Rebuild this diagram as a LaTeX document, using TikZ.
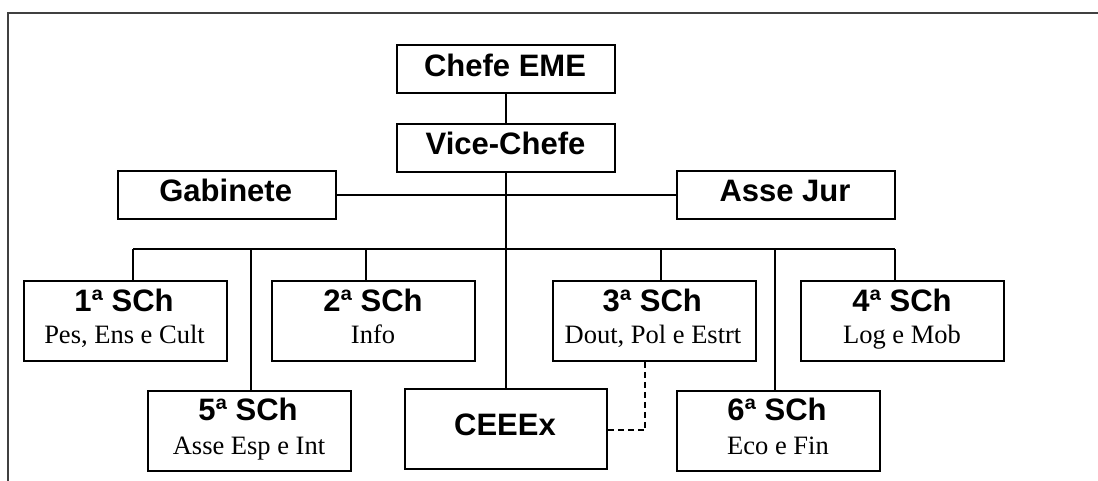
\documentclass[tikz,border=0pt]{standalone}
\usepackage{fontspec}
\newfontfamily\headfont{Liberation Sans}
\newfontfamily\subfont{Liberation Serif}
\begin{document}
\begin{tikzpicture}[x=1pt,y=-1pt,
  box/.style={draw=black,line width=2pt,rectangle,inner sep=0pt},
  topbox/.style={box,minimum width=218pt,minimum height=48pt},
  rowbox/.style={box,minimum width=203pt,minimum height=80pt},
  head/.style={anchor=base,inner sep=0pt,font=\headfont\bfseries\fontsize{31}{36}\selectfont},
  sub/.style={anchor=base,inner sep=0pt,font=\subfont\fontsize{26.5}{30}\selectfont},
  link/.style={line width=1.7pt},
  frame/.style={line width=2.2pt,draw=black!75}]
\useasboundingbox (0,0) rectangle (1098,480);
\draw[frame] (8,482) -- (8,13.3) -- (1100,13.3);

% top boxes
\node[topbox] (chefe) at (506.2,68.7) {};
\node[head] (tchefe) at (505,76) {Chefe EME};
\node[topbox] (vice) at (506.2,147.7) {};
\node[head] (tvice) at (505.5,154) {Vice-Chefe};
\node[topbox] (gab) at (226.5,195) {};
\node[head] (tgab) at (225.7,201.7) {Gabinete};
\node[topbox] (asse) at (786,195) {};
\node[head] (tasse) at (785,201.7) {Asse Jur};

% row 1
\node[rowbox] (s1) at (125.7,320.8) {};
\node[head] (ts1) at (124,311.7) {1ª SCh};
\node[sub] (us1) at (124.5,343.3) {Pes, Ens e Cult};
\node[rowbox] (s2) at (373.8,320.8) {};
\node[head] (ts2) at (373,311.7) {2ª SCh};
\node[sub] (us2) at (373,343.3) {Info};
\node[rowbox] (s3) at (654,320.8) {};
\node[head] (ts3) at (652.3,311.7) {3ª SCh};
\node[sub] (us3) at (653,343.3) {Dout, Pol e Estrt};
\node[rowbox] (s4) at (902.7,320.8) {};
\node[head] (ts4) at (902,311.7) {4ª SCh};
\node[sub] (us4) at (902,343.3) {Log e Mob};

% row 2
\node[rowbox] (s5) at (249.7,430.7) {};
\node[head] (ts5) at (248,420) {5ª SCh};
\node[sub] (us5) at (249,454) {Asse Esp e Int};
\node[box,minimum width=202pt,minimum height=80pt] (ceeex) at (505.5,429.3) {};
\node[head] (tceeex) at (505,435) {CEEEx};
\node[rowbox] (s6) at (778.5,430.7) {};
\node[head] (ts6) at (777,420) {6ª SCh};
\node[sub] (us6) at (778,454) {Eco e Fin};

% connectors
\draw[link] (chefe.south) -- (vice.north);
\draw[link] (gab.east) -- (asse.west);
\draw[link] (vice.south) -- (vice.south |- ceeex.north);

\coordinate (b1) at (133,249.3);
\coordinate (b5) at (250.7,249.3);
\coordinate (b2) at (366,249.3);
\coordinate (b3) at (661.3,249.3);
\coordinate (b6) at (774.7,249.3);
\coordinate (b4) at (894.7,249.3);
\draw[link] (b1) -- (b4);
\draw[link] (b1) -- (b1 |- s1.north);
\draw[link] (b5) -- (b5 |- s5.north);
\draw[link] (b2) -- (b2 |- s2.north);
\draw[link] (b3) -- (b3 |- s3.north);
\draw[link] (b6) -- (b6 |- s6.north);
\draw[link] (b4) -- (b4 |- s4.north);

\coordinate (dk) at (645.3,430);
\draw[link,dash pattern=on 6pt off 4pt] (dk |- s3.south) -- (dk) -- (ceeex.east |- dk);
\end{tikzpicture}
\end{document}
